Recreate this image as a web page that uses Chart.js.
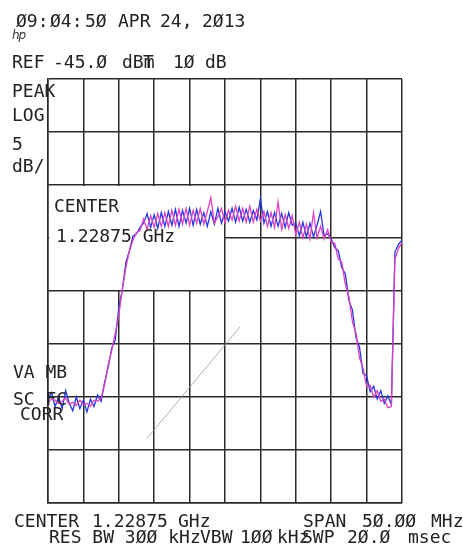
<!DOCTYPE html>
<html>
<head>
<meta charset="utf-8">
<script src="https://cdn.jsdelivr.net/npm/chart.js@4/dist/chart.umd.min.js"></script>
<style>
  html, body { margin: 0; padding: 0; background: #fff; }
  #wrap { position: relative; width: 463px; height: 553px; overflow: hidden; background: #fff; }
  #c { position: absolute; left: 0; top: 0; }
  .t { position: absolute; font-family: "DejaVu Sans Mono", monospace; font-size: 18px; line-height: 18px;
       color: #222; white-space: pre; }
  .hp { position: absolute; font-family: "DejaVu Sans", sans-serif; font-style: italic; font-size: 12px;
        line-height: 12px; color: #333; letter-spacing: -1px; }
</style>
</head>
<body>
<div id="wrap">
  <canvas id="c" width="463" height="553"></canvas>

  <div class="t" style="left:16px;top:12px">Ø9:</div>
  <div class="t" style="left:50px;top:12px">Ø4:</div>
  <div class="t" style="left:85px;top:12px">5Ø</div>
  <div class="t" style="left:118px;top:12px">APR</div>
  <div class="t" style="left:160px;top:12px">24,</div>
  <div class="t" style="left:202px;top:12px">2Ø13</div>
  <div class="hp" style="left:12px;top:29px">hp</div>

  <div class="t" style="left:12px;top:53px">REF</div>
  <div class="t" style="left:53px;top:53px">-45.Ø</div>
  <div class="t" style="left:122px;top:53px">dBm</div>
  <div class="t" style="left:143px;top:53px">T</div>
  <div class="t" style="left:173px;top:53px">1Ø</div>
  <div class="t" style="left:205px;top:53px">dB</div>

  <div class="t" style="left:12px;top:82px">PEAK</div>
  <div class="t" style="left:12px;top:106px">LOG</div>
  <div class="t" style="left:12px;top:135px">5</div>
  <div class="t" style="left:12px;top:157px">dB/</div>

  <div class="t" style="left:54px;top:197px">CENTER</div>
  <div class="t" style="left:56px;top:227px">1.22875 GHz</div>

  <div class="t" style="left:13px;top:363px">VA MB</div>
  <div class="t" style="left:13px;top:390px">SC FC</div>
  <div class="t" style="left:20px;top:405px">CORR</div>

  <div class="t" style="left:14px;top:512px">CENTER</div>
  <div class="t" style="left:92px;top:512px">1.22875</div>
  <div class="t" style="left:178px;top:512px">GHz</div>
  <div class="t" style="left:303px;top:512px">SPAN</div>
  <div class="t" style="left:362px;top:512px">5Ø.ØØ</div>
  <div class="t" style="left:431px;top:512px">MHz</div>

  <div class="t" style="left:49px;top:528px">RES BW 3ØØ kHz</div>
  <div class="t" style="left:200px;top:528px">VBW</div>
  <div class="t" style="left:240px;top:528px">1ØØ</div>
  <div class="t" style="left:277px;top:528px">kHz</div>
  <div class="t" style="left:302px;top:528px">SWP</div>
  <div class="t" style="left:347px;top:528px">2Ø.Ø</div>
  <div class="t" style="left:408px;top:528px">msec</div>
</div>

<script>
// Frequency offset from center (MHz), 0.5 MHz steps across the 50 MHz span
const freqs = [
  -25,-24.5,-24,-23.5,-23,-22.5,-22,-21.5,-21,-20.5,
  -20,-19.5,-19,-18.5,-18,-17.5,-17,-16.5,-16,-15.5,
  -15,-14.5,-14,-13.5,-13,-12.5,-12,-11.5,-11,-10.5,
  -10,-9.5,-9,-8.5,-8,-7.5,-7,-6.5,-6,-5.5,
  -5,-4.5,-4,-3.5,-3,-2.5,-2,-1.5,-1,-0.5,
  0,0.5,1,1.5,2,2.5,3,3.5,4,4.5,
  5,5.5,6,6.5,7,7.5,8,8.5,9,9.5,
  10,10.5,11,11.5,12,12.5,13,13.5,14,14.5,
  15,15.5,16,16.5,17,17.5,18,18.5,19,19.5,
  20,20.5,21,21.5,22,22.5,23,23.5,24,24.5,
  25
];

// Blue trace (dBm)
const blueTrace = [
  -75.3,-74.6,-75.9,-75.0,-76.1,-74.4,-75.6,-76.3,-75.0,-76.1,
  -75.3,-76.4,-75.2,-75.9,-74.8,-75.4,-73.6,-72.2,-70.4,-69.6,
  -66.6,-64.9,-62.3,-61.2,-59.8,-59.6,-59.0,-58.6,-57.7,-59.0,
  -57.8,-59.1,-57.6,-58.9,-57.5,-58.8,-57.3,-58.9,-57.4,-58.6,
  -57.2,-58.8,-57.3,-58.7,-57.6,-58.9,-57.5,-58.7,-57.2,-58.6,
  -57.5,-58.4,-57.2,-58.5,-57.1,-58.4,-57.3,-58.5,-57.4,-58.3,
  -56.3,-58.6,-57.5,-58.9,-57.6,-58.9,-57.7,-59.0,-57.6,-58.8,
  -58.6,-59.8,-58.5,-59.9,-58.6,-59.9,-58.8,-57.5,-59.8,-59.6,
  -60.1,-60.9,-61.2,-62.8,-63.4,-65.9,-66.8,-69.4,-70.3,-72.8,
  -73.0,-74.5,-74.0,-75.2,-74.4,-75.6,-74.9,-75.7,-61.3,-60.6,
  -60.2
];

// Magenta trace (dBm)
const magentaTrace = [
  -75.5,-75.2,-75.3,-75.6,-75.4,-75.1,-75.7,-75.5,-75.8,-75.3,
  -75.7,-75.6,-75.9,-75.3,-75.4,-75.1,-73.8,-72.0,-70.6,-69.0,
  -67.3,-64.8,-62.8,-61.2,-60.2,-59.5,-59.3,-58.2,-59.2,-57.9,
  -59.0,-57.7,-58.9,-57.6,-58.9,-57.4,-58.8,-57.3,-58.7,-57.2,
  -58.8,-57.4,-58.6,-57.2,-58.7,-57.5,-56.2,-58.6,-58.0,-57.2,
  -58.6,-57.4,-58.3,-57.0,-58.4,-57.2,-58.5,-57.0,-58.5,-57.3,
  -58.4,-57.5,-58.9,-57.6,-59.0,-56.6,-59.2,-57.8,-59.1,-57.9,
  -59.7,-58.5,-60.0,-58.7,-60.1,-57.6,-60.0,-58.9,-60.1,-59.2,
  -60.4,-60.5,-62.0,-62.3,-64.4,-65.5,-67.9,-69.0,-71.3,-72.3,
  -74.0,-73.9,-75.0,-74.4,-75.4,-75.2,-76.0,-75.9,-62.0,-61.0,
  -60.4
];

// Stray thin diagonal plotter line (MHz, dBm)
const strayX = [-11.0, 2.1];
const strayY = [-78.9, -68.4];

// Screen settings
const xMin = -25, xMax = 25, xStep = 5;   // 50 MHz span, 10 divisions
const yMin = -85, yMax = -45, yStep = 5;  // REF -45 dBm, 5 dB/div

const toPts = (xs, ys) => xs.map((x, i) => ({ x: x, y: ys[i] }));

// Blank annotation box (the "CENTER" readout area hides the graticule)
const boxPlugin = {
  id: 'annotBox',
  beforeDatasetsDraw(chart) {
    const { ctx, scales } = chart;
    const x0 = scales.x.getPixelForValue(-25) + 1.2;
    const x1 = scales.x.getPixelForValue(0) - 1.0;
    const y0 = scales.y.getPixelForValue(-55) + 1.0;
    const y1 = scales.y.getPixelForValue(-65) - 1.0;
    ctx.save();
    ctx.fillStyle = '#ffffff';
    ctx.fillRect(x0, y0, x1 - x0, y1 - y0);
    ctx.restore();
  }
};

new Chart(document.getElementById('c'), {
  type: 'line',
  data: {
    datasets: [
      {
        data: toPts(strayX, strayY),
        borderColor: '#9a9a9a',
        borderWidth: 0.8,
        pointRadius: 0,
        tension: 0
      },
      {
        data: toPts(freqs, magentaTrace),
        borderColor: '#e040c0',
        borderWidth: 1.3,
        pointRadius: 0,
        tension: 0
      },
      {
        data: toPts(freqs, blueTrace),
        borderColor: '#2236e6',
        borderWidth: 1.3,
        pointRadius: 0,
        tension: 0
      }
    ]
  },
  options: {
    responsive: false,
    animation: false,
    events: [],
    layout: { padding: { left: 48, right: 61, top: 79, bottom: 50 } },
    plugins: { legend: { display: false }, tooltip: { enabled: false }, title: { display: false } },
    scales: {
      x: {
        type: 'linear', min: xMin, max: xMax,
        ticks: { display: false, stepSize: xStep },
        grid: { color: '#2a2a2a', lineWidth: 1.5, drawTicks: false },
        border: { display: true, color: '#2a2a2a', width: 1.5 }
      },
      y: {
        type: 'linear', min: yMin, max: yMax,
        ticks: { display: false, stepSize: yStep },
        grid: { color: '#2a2a2a', lineWidth: 1.5, drawTicks: false },
        border: { display: true, color: '#2a2a2a', width: 1.5 }
      }
    }
  },
  plugins: [boxPlugin]
});
</script>
</body>
</html>
